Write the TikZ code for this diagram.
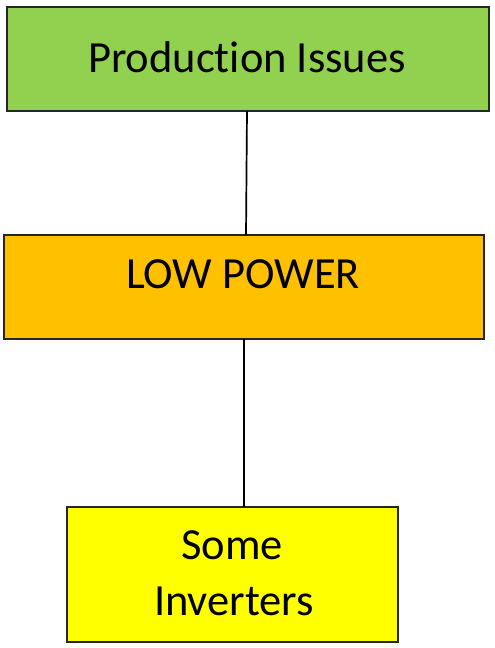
\documentclass[tikz,border=0pt]{standalone}
\usepackage{fontspec}
\setmainfont[Ligatures=CommonOff]{Carlito}
\definecolor{boxgreen}{HTML}{92D050}
\definecolor{boxorange}{HTML}{FFC000}
\definecolor{boxyellow}{HTML}{FFFF00}
\begin{document}
\begin{tikzpicture}[x=1pt,y=-1pt,
  boxstyle/.style={draw=black!85,line width=1.1pt,inner sep=0pt,outer sep=0pt},
  labelstyle/.style={font=\fontsize{44.5}{56}\selectfont,anchor=base,inner sep=0pt,text=black},
  linkstyle/.style={line width=1.7pt,black}]
\useasboundingbox (0,0) rectangle (495,648);
\node[boxstyle,fill=boxgreen,minimum width=482pt,minimum height=104pt] (top) at (248,59) {};
\node[boxstyle,fill=boxorange,minimum width=480pt,minimum height=104pt] (mid) at (244,287) {};
\node[boxstyle,fill=boxyellow,minimum width=331pt,minimum height=135pt] (bot) at (232.5,574.5) {};
\node[labelstyle] (toptext) at (247,72) {Production Issues};
\node[labelstyle] (midtext) at (243,288) {LOW POWER};
\node[labelstyle] (bottext1) at (232,559) {Some};
\node[labelstyle] (bottext2) at (234,615) {Inverters};
\coordinate (a1) at (247,111);
\coordinate (a2) at (246,235);
\draw[linkstyle] (top.south -| a1) -- (mid.north -| a2);
\draw[linkstyle] (mid.south -| 244,0) -- (bot.north -| 244,0);
\end{tikzpicture}
\end{document}
